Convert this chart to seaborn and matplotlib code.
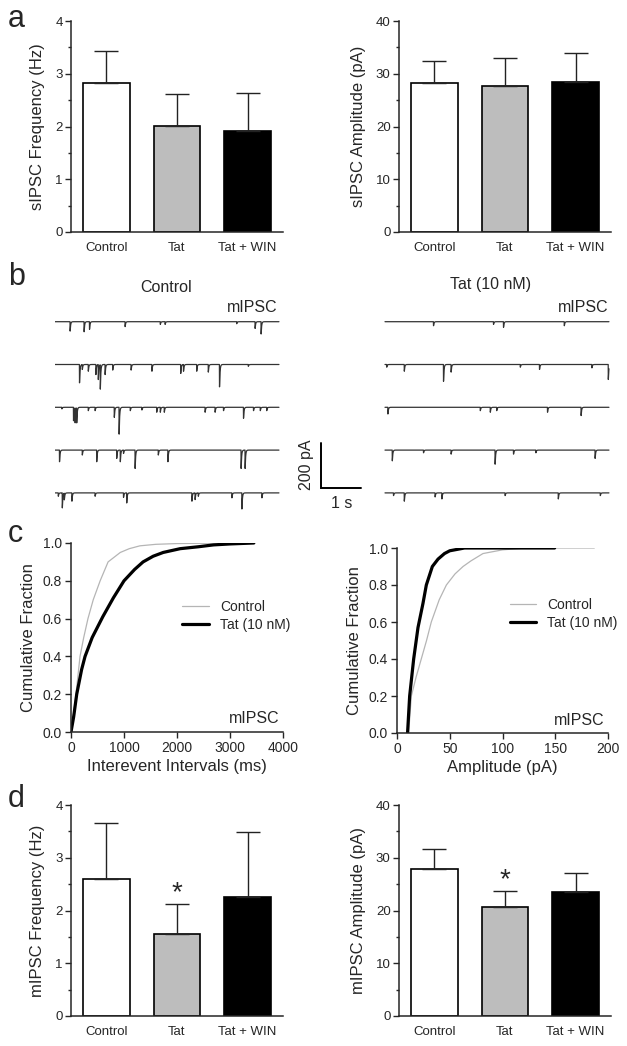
import numpy as np
import pandas as pd
import matplotlib
matplotlib.use('Agg')
import matplotlib.pyplot as plt
import seaborn as sns
from matplotlib.ticker import MultipleLocator

# ---- data ----
groups = ['Control', 'Tat', 'Tat + WIN']
bar_colors = ['white', '#bdbdbd', 'black']

sipsc_freq = [2.82, 2.01, 1.91]
sipsc_freq_err = [0.61, 0.60, 0.73]
sipsc_amp = [28.3, 27.7, 28.4]
sipsc_amp_err = [4.2, 5.3, 5.5]

mipsc_freq = [2.60, 1.55, 2.26]
mipsc_freq_err = [1.05, 0.57, 1.23]
mipsc_amp = [27.85, 20.7, 23.5]
mipsc_amp_err = [3.85, 3.0, 3.7]

# cumulative distributions (panel c)
ctrl_iei_ms = [0, 50, 94, 170, 240, 320, 420, 550, 700, 930, 1100, 1300, 1600, 2000, 3000]
ctrl_iei_cf = [0, 0.1, 0.2, 0.4, 0.5, 0.6, 0.7, 0.8, 0.9, 0.95, 0.97, 0.985, 0.993, 0.997, 1.0]
tat_iei_ms = [0, 50, 108, 200, 265, 400, 600, 800, 1000, 1200, 1360, 1550, 1740, 2060, 2400, 2690, 3000, 3450]
tat_iei_cf = [0, 0.08, 0.2, 0.33, 0.4, 0.5, 0.61, 0.71, 0.8, 0.86, 0.9, 0.93, 0.95, 0.97, 0.98, 0.99, 0.995, 1.0]

ctrl_amp_pa = [11, 13.6, 18, 23, 28, 32.5, 40, 46.8, 55, 62.6, 70, 81.5, 100, 122, 187]
ctrl_amp_cf = [0, 0.2, 0.3, 0.4, 0.5, 0.6, 0.72, 0.8, 0.86, 0.9, 0.93, 0.97, 0.99, 1.0, 1.0]
tat_amp_pa = [10, 12, 15.8, 19.9, 24.6, 27.8, 33.5, 38.9, 45, 50, 64, 149.4]
tat_amp_cf = [0, 0.2, 0.4, 0.57, 0.7, 0.8, 0.9, 0.94, 0.97, 0.985, 1.0, 1.0]

# example traces (panel b): event times (s) and amplitudes (pA) per sweep
ctrl_event_t = [
    [0.375, 0.725, 0.86, 1.75, 2.63, 2.75, 4.54, 5.0, 5.15],
    [0.61, 0.68, 0.83, 1.02, 1.08, 1.13, 1.25, 1.44, 1.9, 2.42, 3.14, 3.21, 3.54, 3.83, 4.11, 4.83],
    [0.17, 0.46, 0.5, 0.54, 0.83, 1.0, 1.48, 1.6, 1.88, 2.17, 2.54, 2.63, 2.73, 3.75, 4.0, 4.21, 4.71, 4.96, 5.13, 5.29],
    [0.11, 0.68, 1.04, 1.54, 1.63, 1.71, 2.0, 2.58, 2.82, 4.65, 4.75],
    [0.08, 0.18, 0.23, 0.42, 1.0, 1.71, 1.79, 3.42, 3.5, 3.58, 4.42, 4.67, 5.17],
]
ctrl_event_a = [
    [42, 45, 34, 22, 12, 12, 9, 30, 55],
    [82, 22, 30, 45, 67, 109, 45, 25, 25, 30, 40, 30, 30, 34, 100, 8],
    [7, 60, 67, 67, 15, 15, 45, 120, 15, 12, 22, 22, 22, 22, 22, 15, 49, 15, 15, 15],
    [52, 22, 52, 37, 52, 15, 82, 22, 52, 82, 82],
    [15, 67, 30, 37, 15, 20, 45, 37, 30, 15, 22, 72, 22],
]
tat_event_t = [
    [1.21, 2.71, 2.96, 4.48],
    [0.04, 0.48, 1.46, 1.65, 3.38, 3.86, 5.17, 5.58],
    [0.07, 2.38, 2.63, 2.79, 4.06, 4.9],
    [0.18, 0.96, 1.65, 2.75, 3.21, 3.77, 5.25],
    [0.21, 0.48, 1.25, 1.42, 3.0, 4.33, 5.38],
]
tat_event_a = [
    [18, 12, 25, 18],
    [12, 30, 75, 34, 12, 22, 15, 67],
    [30, 15, 22, 15, 22, 37],
    [48, 12, 18, 63, 18, 12, 37],
    [12, 37, 18, 27, 12, 27, 12],
]
sweep_len_s = 5.6

# ---- style ----
sns.set_style('ticks')
plt.rcParams['font.family'] = ['Liberation Sans', 'DejaVu Sans']
plt.rcParams['axes.linewidth'] = 1.1
plt.rcParams['xtick.major.width'] = 1.0
plt.rcParams['ytick.major.width'] = 1.0
plt.rcParams['ytick.minor.width'] = 1.0

W, H = 627, 1046
fig = plt.figure(figsize=(W / 100, H / 100), dpi=100)


def px_axes(x0, y0, x1, y1):
    return fig.add_axes([x0 / W, 1 - y1 / H, (x1 - x0) / W, (y1 - y0) / H])


def px_text(x, y, s, **kw):
    fig.text(x / W, 1 - y / H, s, **kw)


def bar_panel(ax, vals, errs, ylabel, ymax, major, star=False):
    df = pd.DataFrame({'group': groups, 'value': vals})
    sns.barplot(data=df, x='group', y='value', hue='group', palette=bar_colors,
                edgecolor='black', linewidth=1.2, width=0.66, legend=False, ax=ax)
    ax.errorbar(range(3), vals, yerr=[np.zeros(3), errs], fmt='none', ecolor='#222222',
                elinewidth=1.0, capsize=8.5, capthick=1.0, zorder=1)
    ax.set_xlim(-0.5, 2.5)
    ax.set_ylim(0, ymax)
    ax.yaxis.set_major_locator(MultipleLocator(major))
    ax.yaxis.set_minor_locator(MultipleLocator(major / 2))
    ax.tick_params(axis='x', length=0, pad=7.5, labelsize=9.5)
    ax.tick_params(axis='y', which='major', length=4, pad=2, labelsize=9.5)
    ax.tick_params(axis='y', which='minor', length=2.5)
    ax.set_xlabel('')
    ax.set_ylabel(ylabel, fontsize=12, labelpad=7)
    sns.despine(ax=ax)
    if star:
        ax.annotate('*', xy=(1, vals[1] + errs[1]), xytext=(0, 3), textcoords='offset points',
                    ha='center', va='baseline', fontsize=20)


# panel a
ax_a1 = px_axes(71, 21, 283, 232)
bar_panel(ax_a1, sipsc_freq, sipsc_freq_err, 'sIPSC Frequency (Hz)', 4, 1)
ax_a2 = px_axes(399, 21, 611, 232)
bar_panel(ax_a2, sipsc_amp, sipsc_amp_err, 'sIPSC Amplitude (pA)', 40, 10)

# panel d
ax_d1 = px_axes(71, 805, 283, 1016)
bar_panel(ax_d1, mipsc_freq, mipsc_freq_err, 'mIPSC Frequency (Hz)', 4, 1, star=True)
ax_d2 = px_axes(399, 805, 611, 1016)
bar_panel(ax_d2, mipsc_amp, mipsc_amp_err, 'mIPSC Amplitude (pA)', 40, 10, star=True)


# panel c
def cdf_panel(ax, cx, cy, tx, ty, xmax, xstep, xlabel, leg_anchor):
    sns.lineplot(x=cx, y=cy, color='#b5b5b5', linewidth=0.9, label='Control',
                 estimator=None, sort=False, ax=ax)
    sns.lineplot(x=tx, y=ty, color='black', linewidth=2.3, label='Tat (10 nM)',
                 estimator=None, sort=False, ax=ax)
    ax.set_xlim(0, xmax)
    ax.set_ylim(0, 1.0)
    ax.xaxis.set_major_locator(MultipleLocator(xstep))
    ax.yaxis.set_major_locator(MultipleLocator(0.2))
    ax.yaxis.set_major_formatter(plt.FormatStrFormatter('%.1f'))
    ax.tick_params(length=4, pad=2.5, labelsize=10)
    ax.set_xlabel(xlabel, fontsize=12, labelpad=3)
    ax.set_ylabel('Cumulative Fraction', fontsize=12, labelpad=5)
    ax.legend(loc='center left', bbox_to_anchor=leg_anchor, frameon=False, fontsize=10,
              handlelength=1.9, borderpad=0, borderaxespad=0, labelspacing=0.3,
              handletextpad=0.8)
    ax.text(0.985, 0.07, 'mIPSC', transform=ax.transAxes, ha='right', va='center', fontsize=11.5)
    sns.despine(ax=ax)


ax_c1 = px_axes(71, 543, 283, 732)
cdf_panel(ax_c1, ctrl_iei_ms, ctrl_iei_cf, tat_iei_ms, tat_iei_cf, 4000, 1000,
          'Interevent Intervals (ms)', (0.525, 0.615))
ax_c2 = px_axes(397, 548, 608, 733)
cdf_panel(ax_c2, ctrl_amp_pa, ctrl_amp_cf, tat_amp_pa, tat_amp_cf, 200, 50,
          'Amplitude (pA)', (0.535, 0.645))

# panel b: traces
px_per_s = 40.0
px_per_pa = 0.2235
b_x0, b_x1, b_y0, b_y1 = 55, 611, 290, 520
ax_b = px_axes(b_x0, b_y0, b_x1, b_y1)
top_pa = (321.7 - b_y0) / px_per_pa
ax_b.set_xlim(0, (b_x1 - b_x0) / px_per_s)
ax_b.set_ylim(top_pa - (b_y1 - b_y0) / px_per_pa, top_pa)
ax_b.axis('off')

dt = 0.001
t = np.arange(0, sweep_len_s, dt)
kt = np.arange(0, 0.15, dt)
kernel = (1 - np.exp(-kt / 0.0012)) * np.exp(-kt / 0.012)
kernel /= kernel.max()
gap_pa = 42.8 / px_per_pa
tat_offset_s = (385 - b_x0) / px_per_s

for sweeps_t, sweeps_a, x_off in [(ctrl_event_t, ctrl_event_a, 0.0),
                                  (tat_event_t, tat_event_a, tat_offset_s)]:
    for i, (ev_t, ev_a) in enumerate(zip(sweeps_t, sweeps_a)):
        y = np.zeros_like(t)
        for et, ea in zip(ev_t, ev_a):
            idx = int(round(et / dt))
            n = min(len(kernel), len(t) - idx)
            y[idx:idx + n] -= ea * kernel[:n]
        sns.lineplot(x=t + x_off, y=y - i * gap_pa, color='#333333', linewidth=0.9,
                     estimator=None, sort=False, ax=ax_b)

# scale bar
sb_x = (320.7 - b_x0) / px_per_s
sb_bottom = top_pa - (487.7 - b_y0) / px_per_pa
ax_b.plot([sb_x, sb_x, sb_x + 1.0], [sb_bottom + 200, sb_bottom, sb_bottom],
          color='black', linewidth=1.4, solid_joinstyle='miter', clip_on=False)
px_text(306.5, 465, '200 pA', rotation=90, ha='center', va='center', fontsize=11.5)
px_text(341.5, 503, '1 s', ha='center', va='center', fontsize=11.5)

# headers in b
px_text(166, 288, 'Control', ha='center', va='center', fontsize=11.5)
px_text(491, 285, 'Tat (10 nM)', ha='center', va='center', fontsize=11.5)
px_text(278, 307, 'mIPSC', ha='right', va='center', fontsize=11.5)
px_text(609, 307, 'mIPSC', ha='right', va='center', fontsize=11.5)

# panel letters
for letter, ly in [('a', 27), ('b', 285), ('c', 542), ('d', 807)]:
    px_text(8, ly, letter, ha='left', va='baseline', fontsize=22)

fig.savefig('out.png', dpi=100)
